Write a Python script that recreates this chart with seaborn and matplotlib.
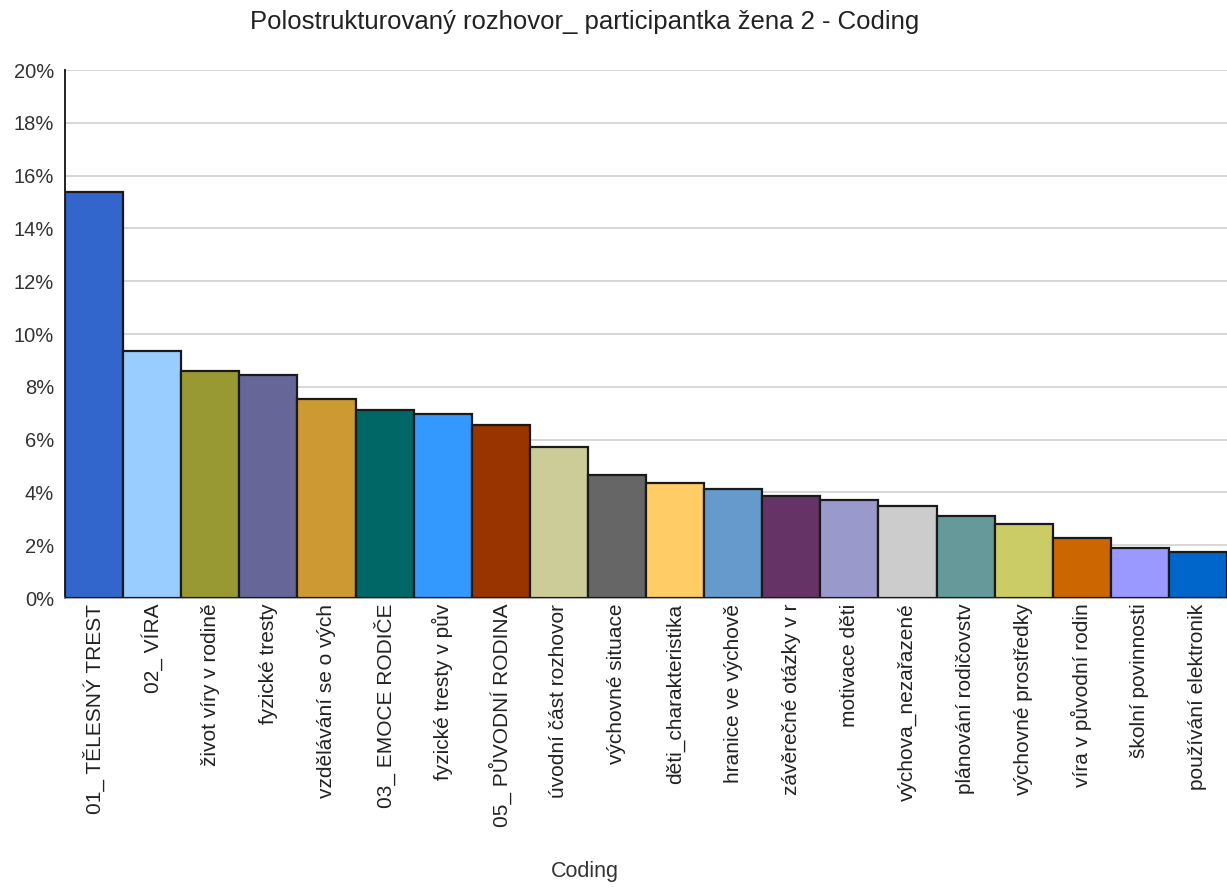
import matplotlib
matplotlib.use("Agg")
import matplotlib.pyplot as plt
import seaborn as sns
import pandas as pd
from matplotlib.ticker import FuncFormatter, MultipleLocator

categories = [
    "01_ TĚLESNÝ TREST", "02_ VÍRA", "život víry v rodině", "fyzické tresty",
    "vzdělávání se o vých", "03_ EMOCE RODIČE", "fyzické tresty v pův",
    "05_ PŮVODNÍ RODINA", "úvodní část rozhovor", "výchovné situace",
    "děti_charakteristika", "hranice ve výchově", "závěrečné otázky v r",
    "motivace děti", "výchova_nezařazené", "plánování rodičovstv",
    "výchovné prostředky", "víra v původní rodin", "školní povinnosti",
    "používání elektronik",
]
values = [15.38, 9.36, 8.6, 8.45, 7.54, 7.12, 6.97, 6.55, 5.72, 4.66,
          4.36, 4.13, 3.86, 3.71, 3.48, 3.1, 2.8, 2.27, 1.89, 1.74]
colors = ["#3366CC", "#99CCFF", "#999933", "#666699", "#CC9933", "#006666",
          "#3399FF", "#993300", "#CCCC99", "#666666", "#FFCC66", "#6699CC",
          "#663366", "#9999CC", "#CCCCCC", "#669999", "#CCCC66", "#CC6600",
          "#9999FF", "#0066CC"]
title = "Polostrukturovaný rozhovor_ participantka žena 2 - Coding"
xlabel = "Coding"

sns.set_theme(style="white")
plt.rcParams['font.family'] = ['Liberation Sans', 'DejaVu Sans']

df = pd.DataFrame({"cat": categories, "val": values})

fig = plt.figure(figsize=(12.27, 8.88), dpi=100)
ax = fig.add_axes([65/1227, 1-598/888, 1-65/1227, (598-70)/888])

sns.barplot(data=df, x="cat", y="val", hue="cat", palette=colors,
            dodge=False, width=1.0, edgecolor="#1a1a1a", linewidth=1.6,
            saturation=1.0, legend=False, ax=ax, zorder=3)

ax.set_ylim(0, 20)
ax.set_xlim(-0.5, len(categories) - 0.5)
ax.yaxis.set_major_locator(MultipleLocator(2))
ax.yaxis.set_major_formatter(FuncFormatter(lambda v, p: f"{v:.0f}%"))
ax.grid(axis="y", color="#d0d0d0", linewidth=1.2, zorder=0)
ax.set_axisbelow(True)

for s in ["top", "right"]:
    ax.spines[s].set_visible(False)
ax.spines["left"].set_color("#222222")
ax.spines["left"].set_linewidth(1.4)
ax.spines["bottom"].set_color("#999999")
ax.spines["bottom"].set_linewidth(1.2)

ax.tick_params(axis="y", labelsize=14.5, colors="#333333", length=0, pad=8)
ax.tick_params(axis="x", labelsize=15, colors="#222222", length=0, pad=4)
plt.setp(ax.get_xticklabels(), rotation=90, va="top", ha="center")

ax.set_xlabel(xlabel, fontsize=15.5, color="#333333")
ax.xaxis.set_label_coords(520/1162, -(872-598)/528)
ax.xaxis.label.set_va("center")
ax.set_ylabel("")
fig.text(585/1227, 1-22/888, title, ha="center", va="center", fontsize=18.5, color="#222222")

fig.savefig("out.png", dpi=100, facecolor="white")
